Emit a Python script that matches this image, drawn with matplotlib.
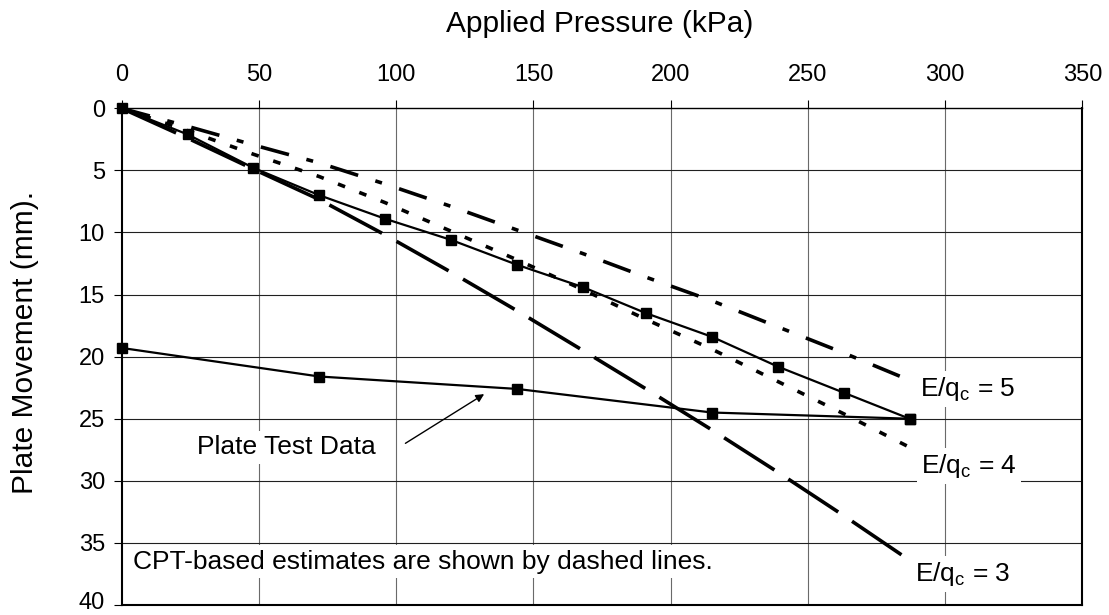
import matplotlib
matplotlib.use("Agg")
import matplotlib.pyplot as plt
import matplotlib.transforms as mtransforms

plt.rcParams['font.family'] = ['Liberation Sans', 'DejaVu Sans']
plt.rcParams['mathtext.fontset'] = 'custom'
plt.rcParams['mathtext.rm'] = 'Liberation Sans'
plt.rcParams['lines.scale_dashes'] = False

# plate load test (loading then unloading)
pressure_load = [0, 24, 48, 72, 96, 120, 144, 168, 191, 215, 239, 263, 287]
movement_load = [0, 2.1, 4.8, 7.0, 8.9, 10.6, 12.6, 14.4, 16.5, 18.4, 20.8, 22.9, 25.0]
pressure_unload = [287, 215, 144, 72, 0]
movement_unload = [25.0, 24.5, 22.6, 21.6, 19.3]

# CPT-based estimates
cpt_pressure = [0, 24, 48, 72, 96, 120, 144, 168, 191, 215, 239, 263, 287]
est_e3 = [0, 2.4, 4.9, 7.35, 10.2, 13.2, 16.3, 19.5, 22.6, 25.9, 29.3, 32.8, 36.4]
est_e4 = [0, 1.8, 3.7, 5.5, 7.6, 9.9, 12.2, 14.6, 17.0, 19.4, 22.0, 24.6, 27.3]
est_e5 = [0, 1.45, 2.95, 4.4, 6.1, 7.9, 9.8, 11.7, 13.6, 15.5, 17.6, 19.7, 21.9]

x_ticks = [0, 50, 100, 150, 200, 250, 300, 350]
y_ticks = [0, 5, 10, 15, 20, 25, 30, 35, 40]

fig = plt.figure(figsize=(11.09, 6.15), dpi=100)
ax = fig.add_axes([0.1097, 0.0163, 0.8664, 0.8076])

ax.set_xlim(0, 350)
ax.set_ylim(40, 0)
ax.xaxis.tick_top()
ax.set_xticks(x_ticks)
ax.set_yticks(y_ticks)
ax.tick_params(axis='x', labelsize=17, length=6, width=0.8, pad=10, direction='out')
ax.tick_params(axis='y', labelsize=17, length=6, width=0.8, pad=6, direction='out')

# bottom label sits right at the figure edge, nudge it up a little
last = ax.get_yticklabels()[-1]
last.set_transform(last.get_transform() + mtransforms.ScaledTranslation(0, 4 / 100, fig.dpi_scale_trans))

for x in x_ticks[1:-1]:
    ax.axvline(x, color='#6a6a6a', lw=0.8, zorder=0)
for y in y_ticks[1:-1]:
    ax.axhline(y, color='#202020', lw=0.8, zorder=0)
for s in ax.spines.values():
    s.set_linewidth(1.5)
ax.spines['top'].set_linewidth(1.0)

lw_est = 2.6
ax.plot(cpt_pressure, est_e3, color='black', lw=lw_est, linestyle=(0, (43, 12)), zorder=2)
ax.plot(cpt_pressure, est_e4, color='black', lw=lw_est, linestyle=(0, (5.5, 11)), zorder=2)
ax.plot(cpt_pressure, est_e5, color='black', lw=lw_est, linestyle=(0, (21, 13, 5, 13)), zorder=2)

ax.plot(pressure_load, movement_load, color='black', lw=1.6, marker='s', ms=7, clip_on=False, zorder=3)
ax.plot(pressure_unload, movement_unload, color='black', lw=1.6, marker='s', ms=7, clip_on=False, zorder=3)

box = dict(facecolor='white', edgecolor='none', pad=3)
ax.text(290.7, 22.6, r'E/q$_\mathregular{c}$ = 5', fontsize=19, va='center', ha='left', bbox=box, zorder=4)
ax.text(291.3, 28.8, r'E/q$_\mathregular{c}$ = 4', fontsize=19, va='center', ha='left', bbox=box, zorder=4)
ax.text(289.1, 37.5, r'E/q$_\mathregular{c}$ = 3', fontsize=19, va='center', ha='left', bbox=box, zorder=4)

ax.text(4.0, 36.5, 'CPT-based estimates are shown by dashed lines.', fontsize=19,
        va='center', ha='left', bbox=box, zorder=4)
ax.text(27.5, 27.3, 'Plate Test Data', fontsize=19, va='center', ha='left', bbox=box, zorder=4)
ax.annotate('', xy=(132.9, 22.9), xytext=(102.5, 27.1),
            arrowprops=dict(arrowstyle='-|>', color='black', lw=1.0, mutation_scale=12), zorder=4)

fig.text(600 / 1109, 1 - 31.7 / 615, 'Applied Pressure (kPa)', fontsize=21.5, ha='center', va='baseline')
fig.text(25 / 1109, 1 - 342 / 615, 'Plate Movement (mm).', fontsize=21.5, rotation=90,
         ha='center', va='center')

fig.savefig('out.png', dpi=100)
